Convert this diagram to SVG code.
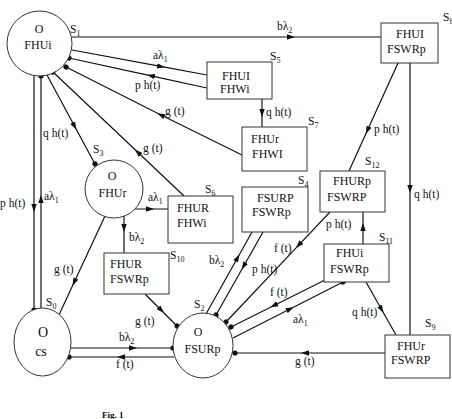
<svg xmlns="http://www.w3.org/2000/svg" width="452" height="419" viewBox="0 0 452 419">
<style>
text{font-family:"Liberation Serif","Times New Roman",serif;fill:#111}
.n{font-size:12px}
.s{font-size:11.5px}
.sub{font-size:8px}
.lb{font-size:11.5px}
.shape{fill:#fff;stroke:#333;stroke-width:1}
.c{fill:none;stroke:#111;stroke-width:1.2;marker-mid:url(#arr)}
.d{marker-end:url(#dot)}
</style>
<defs>
<marker id="arr" markerUnits="userSpaceOnUse" viewBox="0 0 8 6" markerWidth="8" markerHeight="6" refX="5" refY="3" orient="auto">
<path d="M0,0.3 L8,3 L0,5.7 z" fill="#111"/>
</marker>
<marker id="dot" markerUnits="userSpaceOnUse" viewBox="-3 -3 6 6" markerWidth="6" markerHeight="6" refX="0" refY="0" orient="auto">
<circle r="2.6" fill="#111"/>
</marker>
</defs>
<rect width="452" height="419" fill="#fff"/>

<g id="connectors">
<path class="c" d="M72,37 L292,37 L381,37"/>
<path class="c" d="M72,50 L162,66.7 L207,75"/>
<path class="c d" d="M207,88 L150,75.6 L69,58"/>
<path class="c" d="M262,99 L262,114 L262,127"/>
<path class="c d" d="M242,155 L160,114.5 L66,67"/>
<path class="c d" d="M184,196 L137,151.5 L53,72"/>
<path class="c d" d="M47,75 L75,127 L95,164"/>
<path class="c d" d="M34,76 L34,209 L34,310"/>
<path class="c d" d="M41,308 L41,198 L41,76"/>
<path class="c" d="M135,209 L151,209 L168,209"/>
<path class="c" d="M124,216 L124,229 L124,253"/>
<path class="c d" d="M105,216 L73.8,283 L58,317"/>
<path class="c d" d="M145,294 L162,311 L177,326"/>
<path class="c d" d="M71,348 L134,348 L173,348"/>
<path class="c d" d="M174,357 L120,357 L69,357"/>
<path class="c" d="M206,314 L238,257 L252,232"/>
<path class="c d" d="M263,232 L243.2,267 L216,315"/>
<path class="c d" d="M330,212 L298,245.8 L226,322"/>
<path class="c d" d="M325,280 L273,306 L231,327"/>
<path class="c d" d="M233,338 L291,308.5 L343,282"/>
<path class="c d" d="M385,353 L304,353 L235,353"/>
<path class="c" d="M363,244 L363,226 L363,212"/>
<path class="c" d="M366,282 L382,310.3 L396,335"/>
<path class="c" d="M398,63 L367,131.3 L349,171"/>
<path class="c" d="M410,63 L410,190 L410,335"/>
</g>

<g id="connector-labels" class="lb">
<text class="lb" x="277" y="30">bλ<tspan class="sub" dy="3">2</tspan></text>
<text class="lb" x="153" y="59">aλ<tspan class="sub" dy="3">1</tspan></text>
<text class="lb" x="135" y="89">p h(t)</text>
<text class="lb" x="266" y="116">q h(t)</text>
<text class="lb" x="165" y="115">g (t)</text>
<text class="lb" x="143" y="152">g (t)</text>
<text class="lb" x="43" y="137">q h(t)</text>
<text class="lb" x="0" y="207">p h(t)</text>
<text class="lb" x="44" y="200">aλ<tspan class="sub" dy="3">1</tspan></text>
<text class="lb" x="374" y="133">p h(t)</text>
<text class="lb" x="414" y="198">q h(t)</text>
<text class="lb" x="148" y="201">aλ<tspan class="sub" dy="3">1</tspan></text>
<text class="lb" x="129" y="241">bλ<tspan class="sub" dy="3">2</tspan></text>
<text class="lb" x="54" y="273">g (t)</text>
<text class="lb" x="209" y="264">bλ<tspan class="sub" dy="3">2</tspan></text>
<text class="lb" x="252" y="273">p h(t)</text>
<text class="lb" x="274" y="252">f (t)</text>
<text class="lb" x="326" y="228">p h(t)</text>
<text class="lb" x="270" y="296">f (t)</text>
<text class="lb" x="293" y="323">aλ<tspan class="sub" dy="3">1</tspan></text>
<text class="lb" x="352" y="316">q h(t)</text>
<text class="lb" x="295" y="365">g (t)</text>
<text class="lb" x="135" y="325">g (t)</text>
<text class="lb" x="119" y="341">bλ<tspan class="sub" dy="3">2</tspan></text>
<text class="lb" x="116" y="368">f (t)</text>
</g>

<g id="S1">
<circle class="shape" cx="39.5" cy="43.5" r="32.5"/>
<text class="n" x="39" y="33" text-anchor="middle">O</text>
<text class="n" x="38" y="49" text-anchor="middle">FHUi</text>
<text class="s" x="70" y="33">S<tspan class="sub" dy="3">1</tspan></text>
</g>
<g id="S3">
<circle class="shape" cx="114" cy="189" r="29"/>
<text class="n" x="112" y="180" text-anchor="middle">O</text>
<text class="n" x="112.5" y="197" text-anchor="middle">FHUr</text>
<text class="s" x="93" y="153">S<tspan class="sub" dy="3">3</tspan></text>
</g>
<g id="S0">
<ellipse class="shape" cx="42.5" cy="342" rx="28.5" ry="34"/>
<text x="43" y="337" text-anchor="middle" font-size="14">O</text>
<text x="41" y="356" text-anchor="middle" font-size="14">cs</text>
<text class="s" x="46" y="306">S<tspan class="sub" dy="3">0</tspan></text>
</g>
<g id="S2">
<ellipse class="shape" cx="203" cy="345.5" rx="30" ry="32.5"/>
<text class="n" x="198" y="336" text-anchor="middle">O</text>
<text class="n" x="202.5" y="353" text-anchor="middle">FSURp</text>
<text class="s" x="194" y="308">S<tspan class="sub" dy="3">2</tspan></text>
</g>
<g id="S8">
<rect class="shape" x="381" y="23" width="57" height="40"/>
<text class="n" x="396" y="38">FHUI</text>
<text class="n" x="387" y="53">FSWRp</text>
<text class="s" x="443" y="21">S<tspan class="sub" dy="3">8</tspan></text>
</g>
<g id="S5">
<rect class="shape" x="207" y="62" width="65" height="37"/>
<text class="n" x="222" y="80">FHUI</text>
<text class="n" x="220" y="93">FHWi</text>
<text class="s" x="270" y="60">S<tspan class="sub" dy="3">5</tspan></text>
</g>
<g id="S7">
<rect class="shape" x="242" y="127" width="65" height="44"/>
<text class="n" x="251" y="143">FHUr</text>
<text class="n" x="252" y="158">FHWI</text>
<text class="s" x="308" y="125">S<tspan class="sub" dy="3">7</tspan></text>
</g>
<g id="S6">
<rect class="shape" x="168" y="196" width="65" height="47"/>
<text class="n" x="177" y="212">FHUR</text>
<text class="n" x="177" y="227">FHWi</text>
<text class="s" x="205" y="193">S<tspan class="sub" dy="3">6</tspan></text>
</g>
<g id="S4">
<rect class="shape" x="242" y="187" width="66" height="45"/>
<text class="n" x="257" y="202">FSURP</text>
<text class="n" x="252" y="216">FSWRp</text>
<text class="s" x="298" y="184">S<tspan class="sub" dy="3">4</tspan></text>
</g>
<g id="S10">
<rect class="shape" x="104" y="253" width="65" height="41"/>
<text class="n" x="110" y="268">FHUR</text>
<text class="n" x="110" y="283">FSWRp</text>
<text class="s" x="170" y="259">S<tspan class="sub" dy="3">10</tspan></text>
</g>
<g id="S12">
<rect class="shape" x="320" y="171" width="65" height="41"/>
<text class="n" x="333" y="185">FHURp</text>
<text class="n" x="327" y="201">FSWRP</text>
<text class="s" x="365" y="165">S<tspan class="sub" dy="3">12</tspan></text>
</g>
<g id="S11">
<rect class="shape" x="324" y="244" width="65" height="38"/>
<text class="n" x="336" y="257">FHUi</text>
<text class="n" x="330" y="273">FSWRp</text>
<text class="s" x="379" y="241">S<tspan class="sub" dy="3">11</tspan></text>
</g>
<g id="S9">
<rect class="shape" x="385" y="335" width="65" height="43"/>
<text class="n" x="397" y="350">FHUr</text>
<text class="n" x="391" y="364">FSWRP</text>
<text class="s" x="425" y="327">S<tspan class="sub" dy="3">9</tspan></text>
</g>

<text x="102" y="418" font-size="9" font-weight="bold">Fig. 1</text>
</svg>
